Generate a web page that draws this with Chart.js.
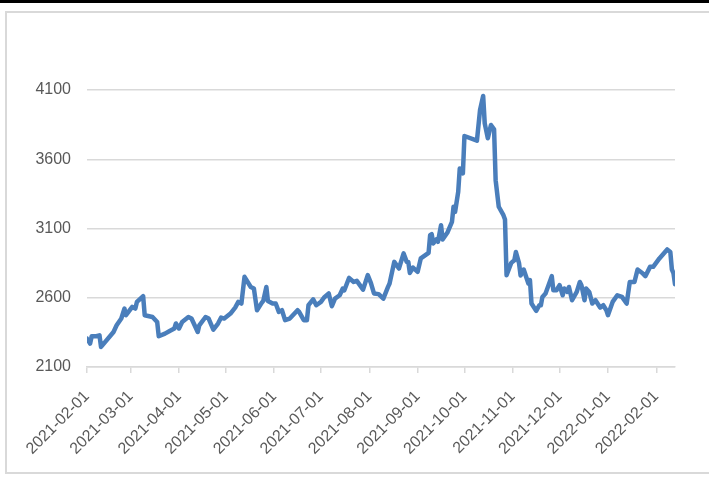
<!DOCTYPE html>
<html>
<head>
<meta charset="utf-8">
<script src="https://cdn.jsdelivr.net/npm/chart.js@4/dist/chart.umd.min.js"></script>
<style>
  html, body { margin: 0; padding: 0; background: #fff; overflow: hidden; }
  #wrap { position: relative; width: 709px; height: 477px; overflow: hidden; }
  #topbar { position: absolute; left: 0; top: 0; width: 709px; height: 3px; background: #000; }
  #frame { position: absolute; left: 5px; top: 11px; width: 740px; height: 459px; border: 2px solid #d9d9d9; }
  #chart { position: absolute; left: 0; top: 0; }
</style>
</head>
<body>
<div id="wrap">
  <div id="topbar"></div>
  <div id="frame"></div>
  <canvas id="chart" width="709" height="477"></canvas>
</div>
<script>
// Daten
const dates = [
  '2021-02-01','2021-02-03','2021-02-04','2021-02-07','2021-02-09','2021-02-10','2021-02-18','2021-02-20',
  '2021-02-23','2021-02-25','2021-02-26','2021-03-02','2021-03-04','2021-03-05','2021-03-09','2021-03-10',
  '2021-03-15','2021-03-18','2021-03-19','2021-03-23','2021-03-26','2021-03-29','2021-03-30','2021-04-01',
  '2021-04-03','2021-04-07','2021-04-09','2021-04-13','2021-04-14','2021-04-18','2021-04-20','2021-04-23',
  '2021-04-26','2021-04-28','2021-04-30','2021-05-04','2021-05-07','2021-05-09','2021-05-11','2021-05-13',
  '2021-05-15','2021-05-17','2021-05-19','2021-05-21','2021-05-24','2021-05-25','2021-05-27','2021-05-28',
  '2021-05-31','2021-06-02','2021-06-04','2021-06-06','2021-06-08','2021-06-11','2021-06-16','2021-06-17',
  '2021-06-20','2021-06-22','2021-06-23','2021-06-26','2021-06-28','2021-07-01','2021-07-03','2021-07-06',
  '2021-07-08','2021-07-10','2021-07-13','2021-07-15','2021-07-16','2021-07-19','2021-07-22','2021-07-24',
  '2021-07-28','2021-07-31','2021-08-02','2021-08-04','2021-08-07','2021-08-10','2021-08-13','2021-08-14',
  '2021-08-17','2021-08-20','2021-08-23','2021-08-25','2021-08-26','2021-08-27','2021-08-29','2021-09-01',
  '2021-09-03','2021-09-08','2021-09-09','2021-09-10','2021-09-11','2021-09-13','2021-09-14','2021-09-16',
  '2021-09-17','2021-09-20','2021-09-23','2021-09-24','2021-09-25','2021-09-27','2021-09-28','2021-09-30',
  '2021-10-01','2021-10-09','2021-10-11','2021-10-13','2021-10-14','2021-10-16','2021-10-18','2021-10-20',
  '2021-10-21','2021-10-23','2021-10-26','2021-10-27','2021-10-28','2021-10-31','2021-11-02','2021-11-03',
  '2021-11-05','2021-11-06','2021-11-08','2021-11-11','2021-11-12','2021-11-13','2021-11-16','2021-11-18',
  '2021-11-19','2021-11-20','2021-11-22','2021-11-26','2021-11-27','2021-11-29','2021-12-01','2021-12-03',
  '2021-12-04','2021-12-06','2021-12-07','2021-12-09','2021-12-12','2021-12-14','2021-12-15','2021-12-17',
  '2021-12-18','2021-12-20','2021-12-22','2021-12-24','2021-12-27','2021-12-29','2021-12-31','2022-01-01',
  '2022-01-04','2022-01-07','2022-01-10','2022-01-13','2022-01-15','2022-01-18','2022-01-20','2022-01-23',
  '2022-01-25','2022-01-28','2022-01-30','2022-02-03','2022-02-08','2022-02-10','2022-02-11','2022-02-12',
  '2022-02-13'
];

const prices = [
  2305,2269,2322,2322,2329,2245,2353,2401,
  2450,2522,2474,2534,2522,2570,2611,2474,
  2461,2425,2322,2341,2360,2378,2414,2378,
  2425,2461,2450,2353,2401,2461,2450,2370,
  2414,2457,2450,2486,2529,2570,2558,2751,
  2714,2678,2667,2510,2563,2577,2678,2577,
  2558,2558,2498,2510,2438,2450,2510,2498,
  2438,2438,2546,2589,2546,2570,2602,2631,
  2539,2594,2618,2667,2654,2743,2714,2722,
  2659,2763,2707,2631,2626,2594,2678,2703,
  2859,2811,2920,2859,2859,2779,2818,2787,
  2884,2924,3052,3059,2992,3021,3004,3124,
  3021,3069,3148,3257,3220,3365,3534,3498,
  3768,3734,3955,4057,3859,3751,3847,3816,
  3449,3257,3196,3165,2763,2852,2871,2930,
  2850,2760,2804,2703,2727,2558,2505,2546,
  2546,2606,2631,2756,2654,2654,2691,2618,
  2667,2642,2678,2582,2642,2714,2691,2582,
  2667,2642,2558,2582,2529,2546,2510,2474,
  2570,2618,2606,2558,2714,2714,2804,2779,
  2756,2823,2823,2884,2949,2931,2804,2779,
  2698
];

const tickDates = [
  '2021-02-01','2021-03-01','2021-04-01','2021-05-01','2021-06-01','2021-07-01','2021-08-01',
  '2021-09-01','2021-10-01','2021-11-01','2021-12-01','2022-01-01','2022-02-01'
];

const yTicks = [2100, 2600, 3100, 3600, 4100];

// Hilfsfunktionen
const DAY = 86400000;
const t0 = Date.parse(dates[0]);
const dayOf = (d) => Math.round((Date.parse(d) - t0) / DAY);

const points = dates.map((d, i) => ({ x: dayOf(d), y: prices[i] }));
const tickValues = tickDates.map(dayOf);

const axisGrey = '#d9d9d9';
const textGrey = '#595959';
const font = { family: 'Liberation Sans, Arial, sans-serif', size: 16 };

new Chart(document.getElementById('chart'), {
  type: 'line',
  data: {
    datasets: [{
      data: points,
      borderColor: '#4a7ebb',
      borderWidth: 4.5,
      pointRadius: 0,
      tension: 0,
      borderJoinStyle: 'round',
      borderCapStyle: 'round',
      fill: false
    }]
  },
  options: {
    responsive: false,
    animation: false,
    layout: { padding: { left: 0, top: 90, right: 34, bottom: 0 } },
    plugins: { legend: { display: false }, tooltip: { enabled: false } },
    scales: {
      x: {
        type: 'linear',
        min: 0,
        max: points[points.length - 1].x,
        afterBuildTicks: (s) => { s.ticks = tickValues.map(v => ({ value: v })); },
        afterFit: (s) => { s.height = 110; },
        ticks: {
          autoSkip: false,
          minRotation: 45,
          maxRotation: 45,
          padding: 14,
          color: textGrey,
          font,
          callback: (v) => {
            const i = tickValues.indexOf(v);
            return i >= 0 ? tickDates[i] : '';
          }
        },
        grid: { drawOnChartArea: false, drawTicks: true, tickLength: 6, color: axisGrey, lineWidth: 1.5 },
        border: { color: axisGrey, width: 1.5 }
      },
      y: {
        min: 2100,
        max: 4100,
        afterBuildTicks: (s) => { s.ticks = yTicks.map(v => ({ value: v })); },
        afterFit: (s) => { s.width = 87; },
        ticks: { padding: 16, color: textGrey, font, callback: (v) => String(v) },
        grid: { drawTicks: false, color: axisGrey, lineWidth: 1.5 },
        border: { display: false }
      }
    }
  }
});
</script>
</body>
</html>
